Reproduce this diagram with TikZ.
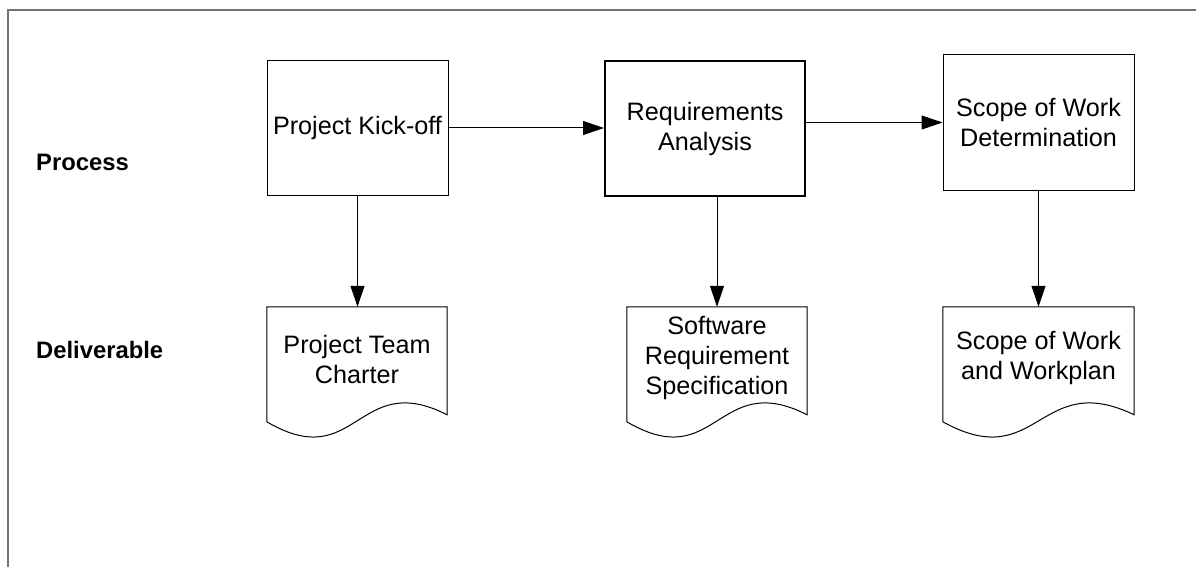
\documentclass[tikz,border=0pt]{standalone}
\usepackage{fontspec}
\setmainfont{Liberation Sans}
\usetikzlibrary{arrows.meta,calc}
\newcommand\docoutline[1]{%
  \draw[docshape] (#1.north west) -- (#1.north east) -- ([yshift=-108pt]#1.north east)
    .. controls ($(#1.north)+(0,62)$) and ($(#1.north)+(0,168)$) .. ([yshift=-115pt]#1.north west) -- cycle;}
\begin{document}
\begin{tikzpicture}[x=1pt,y=-1pt,
  procbox/.style={draw, line width=1pt, align=center, inner sep=0pt, font=\fontsize{25.2}{30}\selectfont},
  doctext/.style={align=center, inner sep=0pt, font=\fontsize{25.2}{30}\selectfont},
  docshape/.style={draw, line width=1pt},
  flow/.style={draw, line width=1pt, -{Triangle[length=21pt,width=14pt]}},
  rowlabel/.style={anchor=west, inner sep=0pt, font=\fontsize{23.8}{28}\selectfont\bfseries}]
\useasboundingbox (0,0) rectangle (1196,567);
\draw[line width=2pt, color=gray!90!black] (8,567) -- (8,10) -- (1196,10);

\node[rowlabel] (lproc) at (36,162) {Process};
\node[rowlabel] (ldel) at (36,350) {Deliverable};

\node[procbox, minimum width=181pt, minimum height=134pt] (kick) at (357.5,128) {Project Kick-off};
\node[procbox, line width=2pt, minimum width=200pt, minimum height=135pt] (req) at (705,128.5) {Requirements\\Analysis};
\node[procbox, minimum width=191pt, minimum height=135pt] (scope) at (1038.5,122.5) {Scope of Work\\Determination};

\node[doctext, minimum width=180pt, minimum height=104pt] (ptc) at (357,359) {Project Team\\Charter};
\node[doctext, minimum width=180pt, minimum height=102pt] (srs) at (717,358) {Software\\Requirement\\Specification};
\node[doctext, minimum width=191pt, minimum height=102pt] (sow) at (1038.5,358) {Scope of Work\\and Workplan};
\docoutline{ptc}
\docoutline{srs}
\docoutline{sow}

\draw[flow] (kick.east) -- (kick.east -| req.west);
\draw[flow] (req.east |- scope.west) -- (scope.west);
\draw[flow] (kick.south) -- (kick.south |- ptc.north);
\draw[flow] (srs.north |- req.south) -- (srs.north);
\draw[flow] (scope.south) -- (scope.south |- sow.north);
\end{tikzpicture}
\end{document}
